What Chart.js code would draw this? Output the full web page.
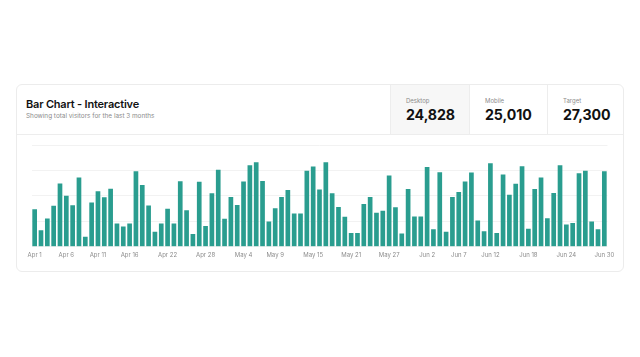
<!DOCTYPE html>
<html>
<head>
<meta charset="utf-8">
<script src="https://cdn.jsdelivr.net/npm/chart.js@4/dist/chart.umd.min.js"></script>
<style>
  html, body { margin:0; padding:0; background:#fff; width:640px; height:357px; overflow:hidden; font-family: Inter, "Noto Sans", sans-serif; }
  .card { position:absolute; left:16px; top:84px; width:608px; height:188px; box-sizing:border-box; border:1px solid #ececec; border-radius:6px; background:#fff; }
  .header { position:absolute; left:0; top:0; width:606px; height:49px; border-bottom:1px solid #ededed; }
  .title { position:absolute; left:9px; top:12px; font-size:11px; font-weight:600; color:#111; letter-spacing:-0.2px; white-space:nowrap; }
  .subtitle { position:absolute; left:9px; top:27px; font-size:6.4px; color:#8c8c8c; white-space:nowrap; }
  .stat { position:absolute; top:0; height:49px; border-left:1px solid #ededed; box-sizing:border-box; }
  .stat .lab { position:absolute; left:15px; top:12px; font-size:6px; color:#8c8c8c; }
  .stat .num { position:absolute; left:15px; top:21px; font-size:14.2px; font-weight:700; color:#111; letter-spacing:-0.1px; }
  #wrap { position:absolute; left:0; top:50px; width:606px; height:137px; }
</style>
</head>
<body>
<div class="card">
  <div class="header">
    <div class="title">Bar Chart - Interactive</div>
    <div class="subtitle">Showing total visitors for the last 3 months</div>
    <div class="stat" style="left:373px;width:79px;background:#f7f7f7;"><div class="lab">Desktop</div><div class="num">24,828</div></div>
    <div class="stat" style="left:452px;width:78px;"><div class="lab">Mobile</div><div class="num">25,010</div></div>
    <div class="stat" style="left:530px;width:76px;"><div class="lab">Target</div><div class="num">27,300</div></div>
  </div>
  <div id="wrap"><canvas id="c"></canvas></div>
</div>
<script>
const months = ["Apr", "May", "Jun"];
const daysInMonth = [30, 31, 30];
const categories = [];
months.forEach((m, i) => { for (let d = 1; d <= daysInMonth[i]; d++) categories.push(m + " " + d); });

const desktop = [
  222, 97, 167, 242, 373, 301, 245, 409, 59, 261,
  327, 292, 342, 137, 120, 138, 446, 364, 243, 89,
  137, 224, 138, 387, 215, 75, 383, 122, 315, 454,
  165, 293, 247, 385, 481, 498, 388, 149, 227, 293,
  335, 197, 197, 448, 473, 338, 499, 315, 235, 177,
  82, 81, 252, 294, 201, 213, 420, 233, 78, 340,
  178, 178, 470, 103, 439, 88, 294, 323, 385, 438,
  155, 92, 492, 81, 426, 307, 371, 475, 107, 341,
  408, 169, 317, 480, 132, 141, 434, 448, 149, 103,
  446
];

const tickLabels = ["Apr 1", "Apr 6", "Apr 11", "Apr 16", "Apr 22", "Apr 28", "May 4", "May 9", "May 15", "May 21", "May 27", "Jun 2", "Jun 7", "Jun 12", "Jun 18", "Jun 24", "Jun 30"];
const yTicks = [0, 150, 300, 450, 600];

new Chart(document.getElementById('c'), {
  type: 'bar',
  data: {
    labels: categories,
    datasets: [{
      label: 'Desktop',
      data: desktop,
      backgroundColor: '#2a9d8f',
      borderWidth: 0,
      categoryPercentage: 1,
      barPercentage: 0.74
    }]
  },
  options: {
    responsive: true,
    maintainAspectRatio: false,
    animation: false,
    layout: { padding: { left: 14.5, right: 15.5, top: 10, bottom: 9 } },
    plugins: { legend: { display: false }, tooltip: { enabled: false } },
    scales: {
      x: {
        grid: { display: false, drawTicks: false },
        border: { display: false },
        ticks: {
          autoSkip: false,
          maxRotation: 0,
          padding: 4.5,
          color: '#8c8c8c',
          font: { family: 'Inter', size: 6 },
          callback: function(v, i) { const l = categories[i]; return tickLabels.includes(l) ? l : ''; }
        }
      },
      y: {
        min: yTicks[0],
        max: yTicks[yTicks.length - 1],
        afterBuildTicks: function(axis) { axis.ticks = yTicks.map(v => ({ value: v })); },
        grid: { color: '#f2f2f2', drawTicks: false, lineWidth: 1 },
        border: { display: false },
        ticks: { display: false }
      }
    }
  }
});
</script>
</body>
</html>
